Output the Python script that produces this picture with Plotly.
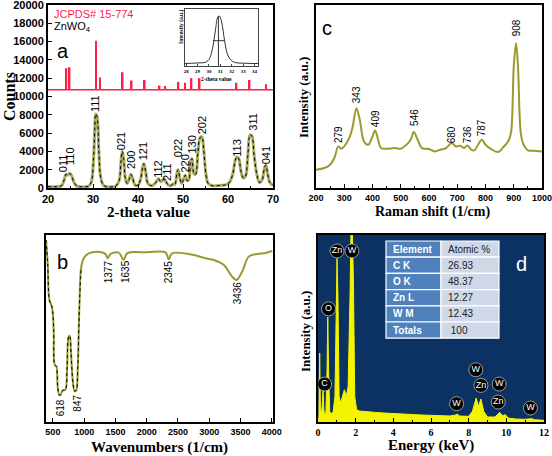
import plotly.graph_objects as go

W, H = 552, 456
SANS = "Liberation Sans"
SERIF = "Liberation Serif"

# ---------------- (a) XRD ----------------
xrd_2theta = [20.0, 21, 22, 23, 23.6, 24.0, 24.4, 24.8, 25.2, 25.7, 26.3, 27, 28, 29, 29.6, 30.1, 30.4, 30.6,
              30.9, 31.3, 31.7, 32.3, 33, 34, 35, 35.8, 36.2, 36.5, 36.8, 37.2, 37.6, 38.0, 38.4, 38.8, 39.3,
              40, 40.6, 41.0, 41.3, 41.7, 42.2, 43, 43.8, 44.3, 44.6, 45.0, 45.4, 45.8, 46.2, 46.8, 47.3, 47.8,
              48.2, 48.6, 48.9, 49.3, 49.7, 50.1, 50.5, 50.9, 51.3, 51.7, 52.0, 52.4, 52.8, 53.3, 53.8, 54.2,
              54.6, 55.1, 55.6, 56.5, 57.5, 58.5, 59.5, 60.3, 61.0, 61.6, 62.0, 62.4, 62.9, 63.4, 63.9, 64.4,
              64.9, 65.3, 65.8, 66.4, 67.0, 67.6, 68.1, 68.4, 68.8, 69.3, 70.0]
xrd_counts = [150, 130, 150, 250, 900, 1500, 1400, 1600, 1400, 700, 250, 150, 120, 200, 600, 3000, 6500, 8100,
              7800, 4000, 1200, 300, 150, 120, 200, 800, 2800, 4000, 3200, 1000, 500, 900, 1500, 1100, 350,
              300, 1000, 2200, 2650, 1800, 500, 250, 500, 900, 1000, 700, 800, 1000, 700, 300, 250, 450,
              400, 1500, 2000, 1100, 500, 900, 1400, 800, 900, 3000, 3200, 1600, 1500, 3800, 5500, 5600,
              4200, 1500, 500, 250, 250, 300, 350, 600, 1400, 3000, 3400, 3200, 1800, 1100, 1300, 3500,
              5800, 5700, 3600, 1500, 600, 900, 2200, 2500, 1600, 600, 300]

jcpds_2theta = [24.1, 24.8, 30.7, 31.6, 36.6, 38.6, 41.5, 44.8, 46.0, 49.0, 50.5, 51.9, 53.7, 61.9, 64.8, 68.4]
jcpds_top = [13100, 13200, 16100, 12070, 12650, 11750, 11800, 11200, 11160, 11600, 11500, 12000, 12000,
             11500, 11800, 11350]
JCPDS_BASE = 10750

hkl_labels = ["011", "110", "111", "021", "200", "121", "112", "211", "022", "220", "130", "202", "113",
              "311", "041"]
hkl_x = [23.3, 25.0, 30.4, 36.4, 38.3, 41.1, 44.4, 46.3, 48.9, 50.5, 51.9, 54.1, 62.0, 65.6, 68.5]
hkl_y = [2700, 3450, 9270, 5100, 3100, 4000, 2070, 1800, 4360, 2700, 4700, 6900, 4400, 7270, 3600]

# inset
inset_2theta = [27.9, 28.9, 29.75, 30.05, 30.34, 30.57, 30.78, 30.92, 31.13, 31.36, 31.65, 32.1, 33.26, 34.3]
inset_int = [2.5, 3, 4, 7.5, 19, 36, 49, 50, 43, 26, 11, 4.3, 2.7, 2.5]
inset_peak = 30.83
inset_peak_top = 50
inset_half = 25.3
inset_fwhm_lo, inset_fwhm_hi = 30.35, 31.36

# ---------------- (c) Raman ----------------
raman_shift = [200, 230, 250, 265, 279, 290, 300, 320, 330, 343, 355, 370, 385, 400, 409, 420, 430, 450, 480,
               500, 520, 535, 546, 560, 575, 600, 620, 640, 660, 680, 695, 710, 725, 736, 750, 760, 787, 800,
               820, 845, 860, 880, 890, 900, 908, 915, 925, 935, 950, 970, 1000]
raman_yz = [510, 505, 495, 475, 440, 447, 440, 410, 380, 325, 360, 425, 435, 410, 392, 420, 445, 447, 445,
            447, 435, 420, 397, 420, 445, 448, 455, 450, 445, 430, 440, 438, 445, 437, 450, 452, 420, 435,
            448, 457, 445, 425, 400, 200, 130, 200, 400, 435, 452, 453, 455]
raman_int = [565 - v for v in raman_yz]
raman_labels = ["279", "343", "409", "546", "680", "736", "787", "908"]
raman_lab_x = [279, 343, 409, 546, 680, 736, 787, 908]
raman_lab_y = [565 - v for v in [405, 285, 358, 352, 405, 405, 383, 85]]

# ---------------- (b) FTIR ----------------
ftir_wn = [390, 417, 444, 486, 513, 529, 556, 577, 604, 630, 657, 700, 726, 753, 769, 790, 822, 849, 876,
           897, 924, 951, 993, 1073, 1260, 1340, 1377, 1420, 1553, 1633, 1686, 2006, 2300, 2353, 2406, 2753,
           2940, 3073, 3233, 3366, 3436, 3527, 3633, 3767, 3874, 4010]
ftir_yz = [30, 100, 210, 232, 300, 405, 410, 470, 497, 493, 482, 480, 420, 320, 318, 370, 460, 485, 480,
           420, 230, 115, 85, 70, 66, 72, 85, 72, 68, 90, 70, 67, 67, 88, 70, 75, 85, 90, 105, 140, 150, 125,
           80, 72, 70, 63]
ftir_T = [577 - v for v in ftir_yz]
ftir_labels = ["618", "847", "1377", "1635", "2345", "3436"]
ftir_lab_x = [618, 880, 1392, 1660, 2353, 3446]
ftir_lab_y = [577 - v for v in [535, 520, 125, 125, 125, 190]]

# ---------------- (d) EDS ----------------
eds_kev = [0.00, 0.05, 0.09, 0.13, 0.18, 0.22, 0.27, 0.31, 0.36, 0.42, 0.48, 0.52, 0.56, 0.62, 0.70, 0.80,
           0.90, 0.96, 1.01, 1.06, 1.12, 1.20, 1.30, 1.40, 1.50, 1.60, 1.70, 1.75, 1.82, 1.88, 1.95, 2.05,
           2.2, 2.5, 3.0, 3.5, 4.0, 4.5, 5.0, 5.5, 6.0, 6.5, 7.0, 7.3, 7.4, 7.5, 8.0, 8.2, 8.4, 8.52, 8.65,
           8.8, 9.0, 9.4, 9.55, 9.65, 9.8, 9.95, 10.1, 10.5, 11.0, 11.25, 11.35, 11.5, 12.0]
eds_yz = [577, 560, 370, 540, 548, 530, 480, 540, 555, 550, 420, 262, 420, 545, 552, 548,
          500, 200, 85, 200, 500, 520, 500, 480, 500, 470, 200, 10, 5, 150, 500, 540,
          544, 546, 548, 550, 552, 553, 555, 556, 557, 558, 559, 556, 553, 559, 560, 545, 505, 530, 508,
          545, 562, 562, 552, 548, 558, 555, 565, 568, 569, 566, 567, 570, 572]
eds_int = [577 - v for v in eds_yz]
eds_tags = ["Zn", "W", "O", "C", "W", "Zn", "W", "Zn", "W", "W"]
eds_tag_x = [1.01, 1.80, 0.56, 0.35, 8.38, 8.65, 9.62, 9.57, 7.36, 11.28]
eds_tag_y = [514, 514, 340, 114, 157, 110, 114, 60, 55, 42]

table_header = ["Element", "Atomic %"]
table_elements = ["C K", "O K", "Zn L", "W M", "Totals"]
table_atomic = ["26.93", "48.37", "12.27", "12.43", " 100"]

OLIVE = "#9a9a2e"
RED = "#ff1f45"

def px_x(a, b):
    return [a / W, b / W]

def px_y(top, bottom):
    return [1 - bottom / H, 1 - top / H]

fig = go.Figure()

# XRD
fig.add_trace(go.Scatter(x=xrd_2theta, y=xrd_counts, mode="lines", line=dict(color="#aaaa60", width=3),
                         line_shape="spline", xaxis="x", yaxis="y", showlegend=False))
fig.add_trace(go.Scatter(x=xrd_2theta, y=xrd_counts, mode="lines", line=dict(color="black", width=1, dash="dot"),
                         line_shape="spline", xaxis="x", yaxis="y", showlegend=False))
fig.add_trace(go.Bar(x=jcpds_2theta, y=[t - JCPDS_BASE for t in jcpds_top], base=JCPDS_BASE, width=0.35,
                     marker=dict(color=RED, line=dict(width=0)), xaxis="x", yaxis="y", showlegend=False))
fig.add_trace(go.Scatter(x=[20, 70], y=[JCPDS_BASE, JCPDS_BASE], mode="lines", line=dict(color=RED, width=1.5),
                         xaxis="x", yaxis="y", showlegend=False))
# inset
fig.add_trace(go.Scatter(x=inset_2theta, y=inset_int, mode="lines", line=dict(color="#333", width=1),
                         line_shape="spline", xaxis="x5", yaxis="y5", showlegend=False))
fig.add_trace(go.Scatter(x=[inset_peak, inset_peak], y=[0, inset_peak_top], mode="lines",
                         line=dict(color="#333", width=1), xaxis="x5", yaxis="y5", showlegend=False))
fig.add_trace(go.Scatter(x=[inset_fwhm_lo, inset_fwhm_hi], y=[inset_half, inset_half], mode="lines",
                         line=dict(color="#333", width=1), xaxis="x5", yaxis="y5", showlegend=False))

# Raman
fig.add_trace(go.Scatter(x=raman_shift, y=raman_int, mode="lines", line=dict(color=OLIVE, width=2),
                         line_shape="spline", xaxis="x2", yaxis="y2", showlegend=False))

# FTIR
fig.add_trace(go.Scatter(x=ftir_wn, y=ftir_T, mode="lines", line=dict(color=OLIVE, width=2),
                         line_shape="spline", xaxis="x3", yaxis="y3", showlegend=False))
fig.add_trace(go.Scatter(x=ftir_wn[:22], y=ftir_T[:22], mode="lines",
                         line=dict(color="black", width=1, dash="dot"),
                         line_shape="spline", xaxis="x3", yaxis="y3", showlegend=False))

# EDS
fig.add_trace(go.Scatter(x=eds_kev, y=eds_int, mode="lines", fill="tozeroy", fillcolor="#f4f400",
                         line=dict(color="#f4f400", width=1), xaxis="x4", yaxis="y4", showlegend=False))
fig.add_trace(go.Scatter(x=eds_tag_x, y=eds_tag_y, mode="markers+text", text=eds_tags,
                         textposition="middle center", textfont=dict(family=SANS, size=9, color="white"),
                         marker=dict(size=14, color="black", line=dict(color="#bbb", width=0.8)),
                         xaxis="x4", yaxis="y4", showlegend=False))

tickf = dict(family=SANS, size=11, color="black", weight="bold")
tickf_s = dict(family=SANS, size=9, color="black", weight="bold")
tickf_serif = dict(family=SERIF, size=10, color="black", weight="bold")

def frame(**kw):
    d = dict(showline=True, mirror=True, linecolor="black", linewidth=2, ticks="inside", ticklen=4,
             tickcolor="black", showgrid=False, zeroline=False, automargin=False, ticklabeloverflow="allow")
    d.update(kw)
    return d

layout = dict(
    width=W, height=H, margin=dict(l=0, r=0, t=0, b=0, autoexpand=False), paper_bgcolor="white",
    plot_bgcolor="white",
    xaxis=frame(domain=px_x(48, 273), range=[20, 70], dtick=10, anchor="y", tickfont=tickf,
                minor=dict(ticks="inside", ticklen=2, dtick=5)),
    yaxis=frame(domain=px_y(5, 188), range=[0, 20000], dtick=2000, anchor="x", tickfont=tickf,
                tickformat="d"),
    xaxis2=frame(domain=px_x(316, 542), range=[200, 1000], dtick=100, anchor="y2", tickfont=tickf_s,
                 minor=dict(ticks="inside", ticklen=2, dtick=50)),
    yaxis2=frame(domain=px_y(5, 188), range=[0, 550], anchor="x2", showticklabels=False, ticks=""),
    xaxis3=frame(domain=px_x(46, 273), range=[390, 4020],
                 tickvals=[500, 1000, 1500, 2000, 2500, 3000, 3500, 4000],
                 anchor="y3", tickfont=tickf_s),
    yaxis3=frame(domain=px_y(235, 422), range=[0, 562], anchor="x3", showticklabels=False, ticks=""),
    xaxis4=frame(domain=px_x(318, 544), range=[0, 12], dtick=2, anchor="y4", tickfont=tickf_serif,
                 minor=dict(ticks="inside", ticklen=2, dtick=1)),
    yaxis4=frame(domain=px_y(235, 422), range=[0, 562], anchor="x4", showticklabels=False, ticks=""),
    xaxis5=dict(domain=px_x(185, 258), range=[27.9, 34.3], dtick=1, anchor="y5", showline=True, mirror=True,
                linecolor="#444", linewidth=1, ticks="inside", ticklen=2, showgrid=False, zeroline=False,
                automargin=False,
                tickfont=dict(family=SERIF, size=5, color="black", weight="bold")),
    yaxis5=dict(domain=px_y(9, 66), range=[0, 57], anchor="x5", showline=True, mirror=True, linecolor="#444",
                linewidth=1, showticklabels=False, ticks="", showgrid=False, zeroline=False, automargin=False),
)
fig.update_layout(**layout)

shapes = [
    dict(type="rect", xref="x4 domain", yref="y4 domain", x0=0, x1=1, y0=0, y1=1,
         fillcolor="#0c3163", line=dict(width=0), layer="below"),
    dict(type="rect", xref="x5 domain", yref="y5 domain", x0=0, x1=1, y0=0, y1=1,
         fillcolor="white", line=dict(width=0), layer="below"),
]

ann = []
# EDS table drawn from its rows
TBL_L, TBL_M, TBL_R, TBL_T, ROW_H = 386, 441, 499, 241, 16.2
rows = [table_header] + [[e, a] for e, a in zip(table_elements, table_atomic)]
for i, (c1, c2) in enumerate(rows):
    top = TBL_T + i * ROW_H
    bot = top + ROW_H
    shapes.append(dict(type="rect", xref="paper", yref="paper", x0=TBL_L / W, x1=TBL_M / W,
                       y0=1 - bot / H, y1=1 - top / H, fillcolor="#4f81bd",
                       line=dict(color="white", width=1.2), layer="above"))
    shapes.append(dict(type="rect", xref="paper", yref="paper", x0=TBL_M / W, x1=TBL_R / W,
                       y0=1 - bot / H, y1=1 - top / H, fillcolor="#d0d8e8",
                       line=dict(color="white", width=1.2), layer="above"))
    ym = 1 - (top + ROW_H / 2) / H
    ann.append(dict(text="<b>%s</b>" % c1, x=(TBL_L + 5) / W, y=ym, xref="paper", yref="paper",
                    xanchor="left", yanchor="middle", showarrow=False,
                    font=dict(family=SANS, size=10, color="white")))
    ann.append(dict(text=c2, x=(TBL_M + 5) / W, y=ym, xref="paper", yref="paper",
                    xanchor="left", yanchor="middle", showarrow=False,
                    font=dict(family=SANS, size=10, color="#1a1a1a")))

for t, x, y in zip(hkl_labels, hkl_x, hkl_y):
    ann.append(dict(text=t, x=x, y=y, xref="x", yref="y", textangle=-90, showarrow=False,
                    font=dict(family=SANS, size=11, color="black")))
for t, x, y in zip(raman_labels, raman_lab_x, raman_lab_y):
    ann.append(dict(text=t, x=x, y=y, xref="x2", yref="y2", textangle=-90, showarrow=False,
                    font=dict(family=SANS, size=10, color="black")))
for t, x, y in zip(ftir_labels, ftir_lab_x, ftir_lab_y):
    ann.append(dict(text=t, x=x, y=y, xref="x3", yref="y3", textangle=-90, showarrow=False,
                    font=dict(family=SANS, size=10, color="black")))

def title(text, cx, cy, size, angle=0):
    return dict(text="<b>%s</b>" % text, x=cx / W, y=1 - cy / H, xref="paper", yref="paper",
                xanchor="center", yanchor="middle", textangle=angle, showarrow=False,
                font=dict(family=SERIF, size=size, color="black"))

def label(text, cx, cy, size, color, xanchor="center"):
    return dict(text=text, x=cx / W, y=1 - cy / H, xref="paper", yref="paper", xanchor=xanchor,
                yanchor="middle", showarrow=False, font=dict(family=SANS, size=size, color=color))

ann += [
    title("Counts", 9, 97, 16, -90),
    title("2-theta value", 148, 212, 15),
    title("Raman shift (1/cm)", 432, 212, 14),
    title("Intensity (a.u.)", 303, 98, 13, -90),
    title("Wavenumbers (1/cm)", 159, 447, 15),
    title("Energy (keV)", 431, 445, 15),
    title("Intensity (a.u.)", 305, 332, 13, -90),
    title("Intensity (a.u.)", 181, 27, 5.5, -90),
    title("2-theta value", 216, 78.5, 5.5),
    label("JCPDS# 15-774", 52, 14, 11, RED, "left"),
    label("ZnWO<sub>4</sub>", 52, 27, 11, "black", "left"),
    label("a", 63, 51, 20, "black"),
    label("c", 327, 28, 20, "black"),
    label("b", 63, 262, 20, "black"),
    label("d", 521, 264, 20, "white"),
]
fig.update_layout(annotations=ann, shapes=shapes)

fig.write_html("out.html", config=dict(displayModeBar=False),
               post_script="document.body.style.margin='0px';document.body.style.overflow='hidden';")
